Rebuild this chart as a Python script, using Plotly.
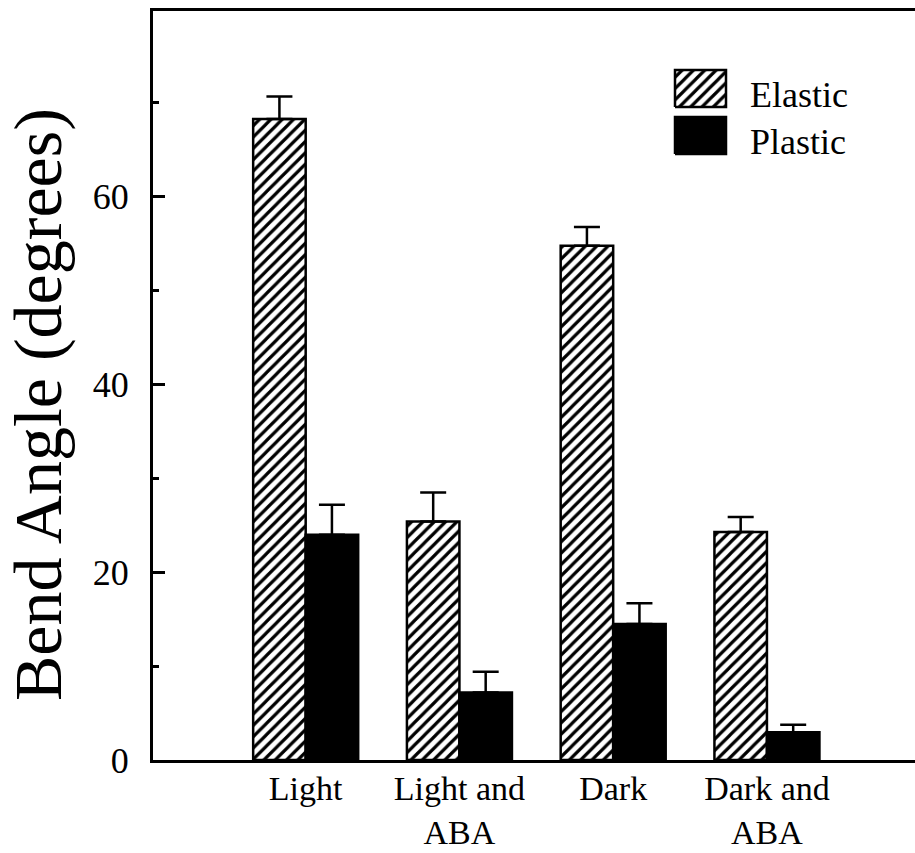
import plotly.graph_objects as go

# Treatment groups and measured bend angles (degrees), mean + upper SE
categories = ["Light", "Light and<br>ABA", "Dark", "Dark and<br>ABA"]
elastic = [68.3, 25.4, 54.8, 24.3]
elastic_err = [2.4, 3.1, 2.0, 1.6]
plastic = [24.0, 7.2, 14.5, 2.95]
plastic_err = [3.2, 2.2, 2.2, 0.8]
series_names = ["Elastic", "Plastic"]
y_ticks = [0, 20, 40, 60]

FONT = "Liberation Serif, Times New Roman, serif"
BLACK = "black"

W, H = 915, 853
ML, MT, MB, MR = 153, 11, 93, 0

fig = go.Figure()

hatch = dict(shape="/", size=8, solidity=0.4, fgcolor=BLACK, bgcolor="white", fillmode="replace")

fig.add_trace(go.Bar(
    x=categories, y=elastic, name=series_names[0],
    marker=dict(color="white", pattern=hatch, line=dict(color=BLACK, width=2.5)),
    error_y=dict(type="data", symmetric=False, array=elastic_err,
                 arrayminus=[0] * len(elastic_err), color=BLACK, thickness=2.5, width=13),
    showlegend=False,
))
fig.add_trace(go.Bar(
    x=categories, y=plastic, name=series_names[1],
    marker=dict(color=BLACK, line=dict(color=BLACK, width=2.5)),
    error_y=dict(type="data", symmetric=False, array=plastic_err,
                 arrayminus=[0] * len(plastic_err), color=BLACK, thickness=2.5, width=13),
    showlegend=False,
))

# Legend keys drawn on an invisible overlay axis spanning the plot area (0..1 each way)
plot_w = W - ML - MR
plot_h = H - MT - MB
def fx(px):
    return (px - ML) / plot_w
def fy(py):
    return (H - MB - py) / plot_h

key_left, key_right = 675, 726
key_tops = [70, 117]
key_h = 37
key_styles = [
    dict(fillcolor="white", fillpattern=hatch),
    dict(fillcolor=BLACK),
]
annotations = []
for name, top, style in zip(series_names, key_tops, key_styles):
    x0, x1 = fx(key_left), fx(key_right)
    y0, y1 = fy(top + key_h), fy(top)
    fig.add_trace(go.Scatter(
        x=[x0, x1, x1, x0, x0], y=[y0, y0, y1, y1, y0],
        mode="lines", fill="toself", line=dict(color=BLACK, width=2.5),
        xaxis="x2", yaxis="y2", showlegend=False, hoverinfo="skip", **style,
    ))
    annotations.append(dict(
        x=fx(748), y=fy(top + key_h / 2 + 6), xref="x2", yref="y2", text=name,
        showarrow=False, xanchor="left", yanchor="middle",
        font=dict(family=FONT, size=36, color=BLACK),
    ))

# Vertical axis title
annotations.append(dict(
    x=(38 - ML) / plot_w, y=(H - MB - 405) / plot_h, xref="paper", yref="paper",
    text="Bend Angle (degrees)", textangle=-90, showarrow=False,
    xanchor="center", yanchor="middle",
    font=dict(family=FONT, size=68, color=BLACK),
))

fig.update_layout(
    width=W, height=H,
    margin=dict(l=ML, r=MR, t=MT, b=MB, pad=0, autoexpand=False),
    paper_bgcolor="white", plot_bgcolor="white",
    barmode="group", bargap=0.317, bargroupgap=0,
    font=dict(family=FONT, color=BLACK),
    annotations=annotations,
    xaxis=dict(
        range=[-0.993, 3.963], showgrid=False, zeroline=False, automargin=False,
        showline=True, linecolor=BLACK, linewidth=3, mirror=True,
        ticks="", tickfont=dict(family=FONT, size=34, color=BLACK), ticklabelstandoff=-4,
    ),
    yaxis=dict(
        range=[0, 79.8], tickvals=y_ticks, showgrid=False, zeroline=False, automargin=False,
        showline=True, linecolor=BLACK, linewidth=3, mirror=False,
        ticks="inside", ticklen=12, tickwidth=2.5, tickcolor=BLACK,
        minor=dict(dtick=10, ticks="inside", ticklen=6, tickwidth=2.5, tickcolor=BLACK),
        tickfont=dict(family=FONT, size=36, color=BLACK), ticklabelstandoff=14,
    ),
    xaxis2=dict(overlaying="x", range=[0, 1], visible=False, fixedrange=True),
    yaxis2=dict(overlaying="y", range=[0, 1], visible=False, fixedrange=True),
)

fig.write_html("out.html")
